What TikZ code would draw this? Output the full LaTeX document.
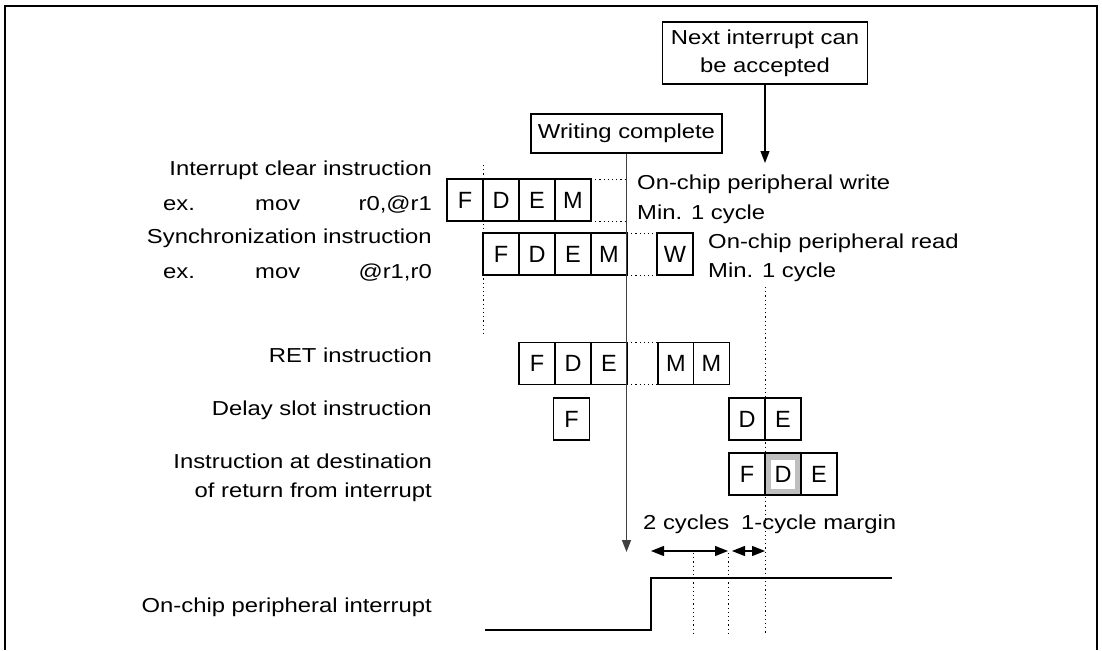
\documentclass[tikz,border=0pt]{standalone}
\usepackage{fontspec}
\setmainfont[FakeStretch=1.18]{Liberation Sans}
\newfontfamily\cellfont{Liberation Sans}
\usetikzlibrary{arrows.meta}
\begin{document}
\begin{tikzpicture}[x=1pt,y=-1pt,
  every node/.style={font=\fontsize{20.2}{28}\selectfont},
  cell/.style={draw, line width=1.2pt, fill=white, minimum width=36pt, minimum height=42pt, inner sep=0pt, outer sep=0pt, font=\cellfont\fontsize{23.5}{28}\selectfont},
  tbox/.style={draw, line width=1.2pt, fill=white, inner sep=0pt, align=center},
  dots/.style={line width=1pt, dash pattern=on 1.2pt off 3pt},
  lbl/.style={anchor=base east, inner sep=0pt},
  lblw/.style={anchor=base west, inner sep=0pt},
  tip/.style={-{Triangle[length=12pt,width=9pt]}},
  dtip/.style={{Triangle[length=13pt,width=10pt]}-{Triangle[length=13pt,width=10pt]}}
]
\useasboundingbox (0,0) rectangle (1102,650);
% frame
\draw[line width=1.8pt] (5,650) -- (5,6) -- (1097,6) -- (1097,650);

% coordinates
\coordinate (ldtop) at (483,165);
\coordinate (ldbot) at (483,335);
\coordinate (rdtop) at (765,287);
\coordinate (rdbot) at (765,635);
\coordinate (v1top) at (693,553);
\coordinate (v1bot) at (693,635);
\coordinate (v2top) at (728,553);
\coordinate (v2bot) at (728,635);
\coordinate (wcend) at (626.5,552);
\coordinate (nxend) at (765,163);
\coordinate (a1) at (651,551);
\coordinate (a2) at (728,551);
\coordinate (a3) at (732,551);
\coordinate (a4) at (765,551);
\coordinate (s0) at (485,630);
\coordinate (s1) at (651,630);
\coordinate (s2) at (651,578);
\coordinate (s3) at (892,578);

% dotted guides (behind boxes)
\draw[dots] (ldtop) -- (ldbot);
\draw[dots] (rdtop) -- (rdbot);
\draw[dots] (v1top) -- (v1bot);
\draw[dots] (v2top) -- (v2bot);

% boxes at top
\node[tbox, minimum width=205pt, minimum height=62pt] (nx) at (765,53) {Next interrupt can\\be accepted};
\node[tbox, minimum width=191pt, minimum height=39pt] (wc) at (626.5,133.5) {Writing complete};

% row 1
\node[cell] (f1) at (465,200) {F};
\node[cell] (d1) at (501,200) {D};
\node[cell] (e1) at (537,200) {E};
\node[cell] (m1) at (573,200) {M};
% row 2
\node[cell] (f2) at (501,254) {F};
\node[cell] (d2) at (537,254) {D};
\node[cell] (e2) at (573,254) {E};
\node[cell] (m2) at (609,254) {M};
\node[cell] (w2) at (675,254) {W};
% row 3
\node[cell] (f3) at (537,363.5) {F};
\node[cell] (d3) at (573,363.5) {D};
\node[cell] (e3) at (609,363.5) {E};
\node[cell] (ma) at (676,363.5) {M};
\node[cell] (mb) at (711.5,363.5) {M};
% row 4
\node[cell] (f4) at (571.5,419) {F};
\node[cell] (d4) at (747,419) {D};
\node[cell] (e4) at (783,419) {E};
% row 5
\node[cell] (f5) at (747,474) {F};
\node[cell, fill=black!25] (d5) at (783,474) {};
\node[fill=white, minimum width=24pt, minimum height=29pt, inner sep=0pt, font=\cellfont\fontsize{23.5}{28}\selectfont] (d5t) at (d5) {D};
\node[cell] (e5) at (819,474) {E};

% dotted extensions
\draw[dots] (m1.north east) -- (m1.north east -| wc.south);
\draw[dots] (m1.south east) -- (m1.south east -| wc.south);
\draw[dots] (m2.north east) -- (w2.north west);
\draw[dots] (m2.south east) -- (w2.south west);
\draw[dots] (e3.north east) -- (ma.north west);
\draw[dots] (e3.south east) -- (ma.south west);

% arrows
\draw[black!75, line width=1.6pt, tip] (wc.south) -- (wcend);
\draw[line width=1.2pt, tip] (nx.south) -- (nxend);
\draw[line width=1.2pt, dtip] (a1) -- (a2);
\draw[line width=1.2pt, dtip] (a3) -- (a4);

% signal
\draw[line width=1.4pt] (s0) -- (s1) -- (s2) -- (s3);

% left labels
\node[lbl] (l1) at (432,175) {Interrupt clear instruction};
\node[lblw] (l2a) at (163,210) {ex.};
\node[lblw] (l2b) at (255,210) {mov};
\node[lbl] (l2c) at (432,210) {r0,@r1};
\node[lbl] (l3) at (432,243) {Synchronization instruction};
\node[lblw] (l4a) at (163,278) {ex.};
\node[lblw] (l4b) at (255,278) {mov};
\node[lbl] (l4c) at (432,278) {@r1,r0};
\node[lbl] (l5) at (432,362) {RET instruction};
\node[lbl] (l6) at (432,415) {Delay slot instruction};
\node[lbl] (l7) at (432,468) {Instruction at destination};
\node[lbl] (l8) at (432,497) {of return from interrupt};
\node[lbl] (l9) at (432,612) {On-chip peripheral interrupt};

% right labels
\node[lblw] (r1) at (637,189) {On-chip peripheral write};
\node[lblw] (r2) at (637,219) {Min. 1 cycle};
\node[lblw] (r3) at (708,248) {On-chip peripheral read};
\node[lblw] (r4) at (708,277) {Min. 1 cycle};
\node[lblw] (c1) at (643,529) {2 cycles};
\node[lblw] (c2) at (741,529) {1-cycle margin};
\end{tikzpicture}
\end{document}
